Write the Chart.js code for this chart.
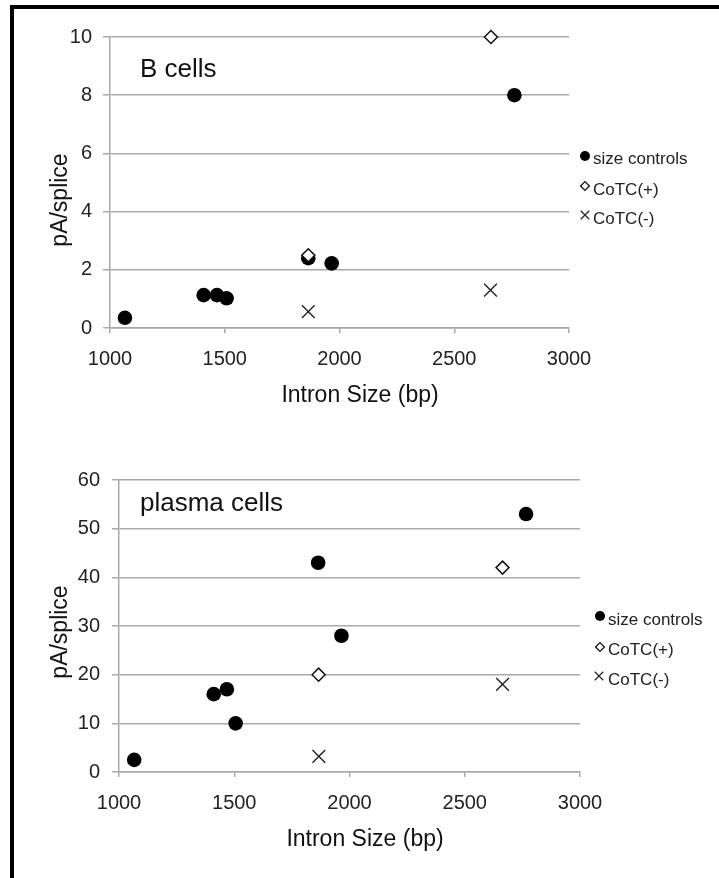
<!DOCTYPE html>
<html>
<head>
<meta charset="utf-8">
<script src="https://cdn.jsdelivr.net/npm/chart.js@4/dist/chart.umd.min.js"></script>
<style>
  html, body { margin: 0; padding: 0; background: #fff; }
  body { width: 719px; height: 878px; position: relative; overflow: hidden; }
  #frame { position: absolute; left: 10px; top: 5px; width: 709px; height: 873px;
           box-sizing: border-box; border-top: 4px solid #000; border-left: 4px solid #000; }
  canvas { position: absolute; left: 0; }
  #c1 { top: 0; }
  #c2 { top: 440px; }
</style>
</head>
<body>
<div id="frame"></div>
<canvas id="c1" width="719" height="440"></canvas>
<canvas id="c2" width="719" height="438"></canvas>
<script>
// ---------- data ----------
const seriesNames = ['size controls', 'CoTC(+)', 'CoTC(-)'];
const xTickValues = [1000, 1500, 2000, 2500, 3000];

// B cells
const bSizeX  = [1065, 1408, 1466, 1508, 1864, 1966, 2762];
const bSizeY  = [0.35, 1.13, 1.13, 1.02, 2.4, 2.22, 8.0];
const bPlusX  = [1864, 2660];
const bPlusY  = [2.5, 10];
const bMinusX = [1864, 2658];
const bMinusY = [0.56, 1.3];
const bYTicks = [0, 2, 4, 6, 8, 10];

// plasma cells
const pSizeX  = [1066, 1411, 1468, 1506, 1864, 1965, 2766];
const pSizeY  = [2.5, 16, 17, 10, 43, 28, 53];
const pPlusX  = [1866, 2664];
const pPlusY  = [20, 42];
const pMinusX = [1867, 2664];
const pMinusY = [3.2, 18];
const pYTicks = [0, 10, 20, 30, 40, 50, 60];

// ---------- helpers ----------
const FONT = '"Liberation Sans", Arial, sans-serif';
const GRID = '#a9a9a9';
const zip = (xs, ys) => xs.map((x, i) => ({ x: x, y: ys[i] }));

const markerStyles = [
  { pointStyle: 'circle',   radius: 7.3, backgroundColor: '#000', borderColor: '#000', borderWidth: 0,   order: 3 },
  { pointStyle: 'rectRot',  radius: 6.5, backgroundColor: '#fff', borderColor: '#111', borderWidth: 1.5, order: 1 },
  { pointStyle: 'crossRot', radius: 9,   backgroundColor: '#fff', borderColor: '#222', borderWidth: 1.4, order: 2 }
];
const legendMarkers = [
  { pointStyle: 'circle',   radius: 5,   fill: '#000', stroke: '#000', lw: 0 },
  { pointStyle: 'rectRot',  radius: 4.4, fill: '#fff', stroke: '#111', lw: 1.3 },
  { pointStyle: 'crossRot', radius: 6,   fill: '#fff', stroke: '#222', lw: 1.2 }
];

const decorPlugin = {
  id: 'decor',
  afterDraw(chart, args, opts) {
    const ctx = chart.ctx;
    ctx.save();
    ctx.fillStyle = '#111';
    ctx.font = '26px ' + FONT;
    ctx.textAlign = 'left';
    ctx.textBaseline = 'alphabetic';
    ctx.fillText(opts.label, opts.labelX, opts.labelY);
    ctx.font = '23px ' + FONT;
    ctx.textAlign = 'center';
    ctx.fillText(opts.xTitle, opts.xTitleX, opts.xTitleY);
    ctx.save();
    ctx.translate(opts.yTitleX, opts.yTitleY);
    ctx.rotate(-Math.PI / 2);
    ctx.fillText(opts.yTitle, 0, 0);
    ctx.restore();
    ctx.font = '17px ' + FONT;
    ctx.textAlign = 'left';
    seriesNames.forEach((name, i) => {
      const m = legendMarkers[i];
      const p = opts.legend[i];
      ctx.fillStyle = m.fill;
      ctx.strokeStyle = m.stroke;
      ctx.lineWidth = m.lw;
      Chart.helpers.drawPoint(ctx, { pointStyle: m.pointStyle, radius: m.radius, rotation: 0, borderWidth: m.lw }, p.mx, p.my);
      ctx.fillStyle = '#222';
      ctx.fillText(name, p.tx, p.ty);
    });
    ctx.restore();
  }
};

function makeChart(id, sets, yTicks, pad, yAxisW, yTickPad, decor) {
  const datasets = sets.map((s, i) => ({
    label: seriesNames[i],
    data: zip(s[0], s[1]),
    pointStyle: markerStyles[i].pointStyle,
    pointRadius: markerStyles[i].radius,
    pointHoverRadius: markerStyles[i].radius,
    pointBackgroundColor: markerStyles[i].backgroundColor,
    pointBorderColor: markerStyles[i].borderColor,
    pointBorderWidth: markerStyles[i].borderWidth,
    showLine: false,
    clip: false,
    order: markerStyles[i].order
  }));
  return new Chart(document.getElementById(id), {
    type: 'scatter',
    data: { datasets: datasets },
    plugins: [decorPlugin],
    options: {
      responsive: false,
      animation: false,
      events: [],
      layout: { padding: pad },
      plugins: {
        legend: { display: false },
        tooltip: { enabled: false },
        decor: decor
      },
      scales: {
        x: {
          type: 'linear',
          min: xTickValues[0],
          max: xTickValues[xTickValues.length - 1],
          afterBuildTicks: (s) => { s.ticks = xTickValues.map(v => ({ value: v })); },
          afterFit: (s) => { s.height = 60; },
          grid: { display: true, drawOnChartArea: false, drawTicks: true, tickLength: 5, color: GRID, lineWidth: 1.5 },
          border: { display: true, color: GRID, width: 1.5 },
          ticks: { font: { family: FONT, size: 20 }, color: '#222', padding: 14, maxRotation: 0,
                   callback: (v) => String(v) }
        },
        y: {
          type: 'linear',
          min: yTicks[0],
          max: yTicks[yTicks.length - 1],
          afterBuildTicks: (s) => { s.ticks = yTicks.map(v => ({ value: v })); },
          ticks: { font: { family: FONT, size: 20 }, color: '#222', padding: yTickPad,
                   callback: (v) => String(v) },
          afterFit: (s) => { s.width = yAxisW; },
          grid: { display: true, drawTicks: true, tickLength: 7, color: GRID, lineWidth: 1.5 },
          border: { display: true, color: GRID, width: 1.5 }
        }
      }
    }
  });
}

makeChart('c1',
  [[bSizeX, bSizeY], [bPlusX, bPlusY], [bMinusX, bMinusY]],
  bYTicks,
  { left: 0, right: 150, top: 37, bottom: 52 }, 110, 11,
  {
    label: 'B cells', labelX: 140, labelY: 77,
    xTitle: 'Intron Size (bp)', xTitleX: 360, xTitleY: 402,
    yTitle: 'pA/splice', yTitleX: 67, yTitleY: 200,
    legend: [
      { mx: 585, my: 156, tx: 593, ty: 164 },
      { mx: 585, my: 186, tx: 593, ty: 195 },
      { mx: 585, my: 215, tx: 593, ty: 224 }
    ]
  });

makeChart('c2',
  [[pSizeX, pSizeY], [pPlusX, pPlusY], [pMinusX, pMinusY]],
  pYTicks,
  { left: 0, right: 139, top: 40, bottom: 46 }, 119, 12,
  {
    label: 'plasma cells', labelX: 140, labelY: 71,
    xTitle: 'Intron Size (bp)', xTitleX: 365, xTitleY: 406,
    yTitle: 'pA/splice', yTitleX: 67, yTitleY: 192,
    legend: [
      { mx: 600, my: 176, tx: 608, ty: 185 },
      { mx: 600, my: 207, tx: 608, ty: 215 },
      { mx: 599, my: 236, tx: 608, ty: 245 }
    ]
  });
</script>
</body>
</html>
